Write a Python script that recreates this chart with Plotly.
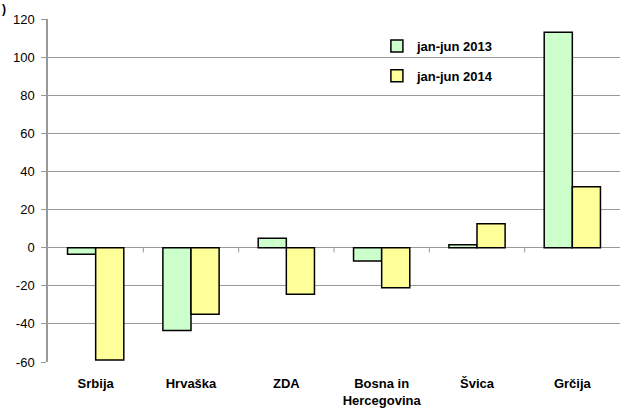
import plotly.graph_objects as go

categories = ["Srbija", "Hrvaška", "ZDA", "Bosna in<br>Hercegovina", "Švica", "Grčija"]
series_names = ["jan-jun 2013", "jan-jun 2014"]
values_2013 = [-3.5, -43.5, 5, -7, 1.5, 113]
values_2014 = [-59, -35, -24.5, -21, 12.5, 32]
y_ticks = [-60, -40, -20, 0, 20, 40, 60, 80, 100, 120]
y_tick_labels = [str(v) for v in y_ticks]

colors = ["#CCFFCC", "#FFFF99"]
FONT = "Liberation Sans, Arial, sans-serif"

fig = go.Figure()
for name, vals, col, grp in zip(series_names, [values_2013, values_2014], colors, ["a", "b"]):
    fig.add_trace(go.Bar(
        x=categories, y=vals, name="<b>" + name + "</b>", legendgroup=grp,
        marker=dict(color=col, line=dict(color="black", width=1.5)),
    ))

# category boundary tick marks on zero line
for i in range(len(categories) - 1):
    fig.add_shape(type="line", xref="x", yref="y", x0=i + 0.5, x1=i + 0.5, y0=0, y1=-2.5,
                  line=dict(color="#999999", width=1))

fig.add_annotation(text="<b>)</b>", xref="paper", yref="paper", x=0, y=1,
                   xanchor="left", yanchor="top", showarrow=False,
                   font=dict(size=12, color="black", family=FONT), xshift=-48, yshift=19)

fig.update_layout(
    width=622, height=410,
    margin=dict(l=48, r=2, t=19, b=48),
    paper_bgcolor="white", plot_bgcolor="white",
    barmode="group", bargap=0.41, bargroupgap=0,
    font=dict(family=FONT, size=12, color="black"),
    showlegend=True,
    legend=dict(x=0.575, y=0.965, xanchor="left", yanchor="top",
                bgcolor="rgba(0,0,0,0)", traceorder="grouped", tracegroupgap=10,
                font=dict(size=13, family=FONT)),
)
fig.update_xaxes(
    automargin=False,
    tickfont=dict(size=13, family=FONT),
    tickprefix="<b>", ticksuffix="</b>",
    showgrid=False, showline=False, ticks="", ticklabelstandoff=12,
)
fig.update_yaxes(
    automargin=False,
    range=[-60, 120], tickvals=y_ticks, ticktext=y_tick_labels,
    showgrid=True, gridcolor="#999999", gridwidth=1,
    zeroline=True, zerolinecolor="#999999", zerolinewidth=1,
    showline=True, linecolor="#999999", linewidth=1.5,
    ticks="outside", ticklen=5, tickcolor="#999999", ticklabelstandoff=4,
    tickfont=dict(size=13, family=FONT),
)

fig.write_html("out.html", config={"displayModeBar": False},
               post_script="document.body.style.margin='0';document.body.style.overflow='hidden';")
